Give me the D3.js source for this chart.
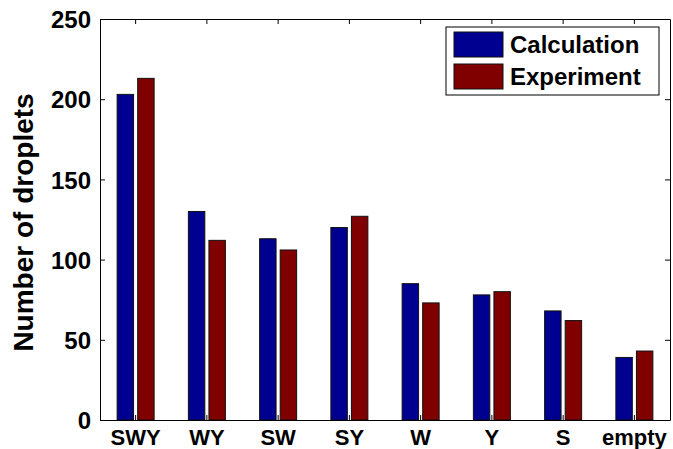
<!DOCTYPE html>
<html>
<head>
<meta charset="utf-8">
<script src="https://cdn.jsdelivr.net/npm/d3@7"></script>
<style>
    body { margin: 0; background: #fff; }
    text { font-family: "Liberation Sans", Arial, sans-serif; font-weight: bold; fill: #000; }
</style>
</head>
<body>
<div id="chart"></div>
<script>
// droplet counts per category
var categories = ['SWY', 'WY', 'SW', 'SY', 'W', 'Y', 'S', 'empty'];
var seriesNames = ['Calculation', 'Experiment'];
var calculation = [203, 130, 113, 120, 85, 78, 68, 39];
var experiment = [213, 112, 106, 127, 73, 80, 62, 43];
var yTicks = [0, 50, 100, 150, 200, 250];

var colors = {
    Calculation: '#000090',
    Experiment: '#800000'
};

var W = 673, H = 449;
var m = { left: 100, right: 3, top: 19, bottom: 29 };

var svg = d3.select('#chart').append('svg')
    .attr('width', W)
    .attr('height', H);

var x0 = d3.scaleBand()
    .domain(categories)
    .range([m.left, W - m.right])
    .padding(0);

var x1 = d3.scaleBand()
    .domain(seriesNames)
    .range([-18.5, 18.5])
    .paddingInner(0.2);

var y = d3.scaleLinear()
    .domain([0, 250])
    .range([H - m.bottom, m.top]);

var rows = categories.map(function(c, i) {
    return { cat: c, values: [
        { name: 'Calculation', value: calculation[i] },
        { name: 'Experiment', value: experiment[i] }
    ] };
});

// bars
var groups = svg.append('g').attr('class', 'bars')
    .selectAll('g')
    .data(rows)
    .enter().append('g')
    .attr('transform', function(d) {
        return 'translate(' + (x0(d.cat) + x0.bandwidth() / 2) + ',0)';
    });

groups.selectAll('rect')
    .data(function(d) { return d.values; })
    .enter().append('rect')
    .attr('x', function(d) { return x1(d.name); })
    .attr('width', x1.bandwidth())
    .attr('y', function(d) { return y(d.value); })
    .attr('height', function(d) { return y(0) - y(d.value); })
    .attr('fill', function(d) { return colors[d.name]; })
    .attr('stroke', '#111')
    .attr('stroke-width', 1);

// axes, matlab-like box with inner ticks
var axLeft = svg.append('g')
    .attr('transform', 'translate(' + m.left + ',0)')
    .call(d3.axisLeft(y).tickValues(yTicks).tickSizeInner(-5).tickSizeOuter(0).tickPadding(9));

var axRight = svg.append('g')
    .attr('transform', 'translate(' + (W - m.right) + ',0)')
    .call(d3.axisRight(y).tickValues(yTicks).tickSizeInner(-5).tickSizeOuter(0).tickFormat(''));

var axBottom = svg.append('g')
    .attr('transform', 'translate(0,' + y(0) + ')')
    .call(d3.axisBottom(x0).tickSizeInner(-5).tickSizeOuter(0).tickPadding(9));

var axTop = svg.append('g')
    .attr('transform', 'translate(0,' + m.top + ')')
    .call(d3.axisTop(x0).tickSizeInner(-5).tickSizeOuter(0).tickFormat(''));

[axLeft, axRight, axBottom, axTop].forEach(function(a) {
    a.attr('font-family', null).attr('font-size', null);
    a.select('.domain').attr('stroke', '#000').attr('stroke-width', 1);
    a.selectAll('.tick line').attr('stroke', '#000');
});

axLeft.selectAll('.tick text')
    .style('font-size', '24px')
    .attr('dy', '0.36em');

axBottom.selectAll('.tick text')
    .style('font-size', '22px')
    .attr('dy', '0.72em');

// y label
svg.append('text')
    .attr('transform', 'translate(33,' + ((y(0) + y(250)) / 2 + 3) + ') rotate(-90)')
    .attr('text-anchor', 'middle')
    .style('font-size', '28px')
    .text('Number of droplets');

// legend
var legend = svg.append('g').attr('class', 'legend')
    .attr('transform', 'translate(446,27)');

legend.append('rect')
    .attr('width', 213)
    .attr('height', 68)
    .attr('fill', '#fff')
    .attr('stroke', '#000');

var items = legend.selectAll('g')
    .data(seriesNames)
    .enter().append('g')
    .attr('transform', function(d, i) { return 'translate(8,' + (5 + i * 32) + ')'; });

items.append('rect')
    .attr('width', 49)
    .attr('height', 25)
    .attr('fill', function(d) { return colors[d]; })
    .attr('stroke', '#111');

items.append('text')
    .attr('x', 56)
    .attr('y', 21)
    .style('font-size', '24px')
    .text(function(d) { return d; });
</script>
</body>
</html>
